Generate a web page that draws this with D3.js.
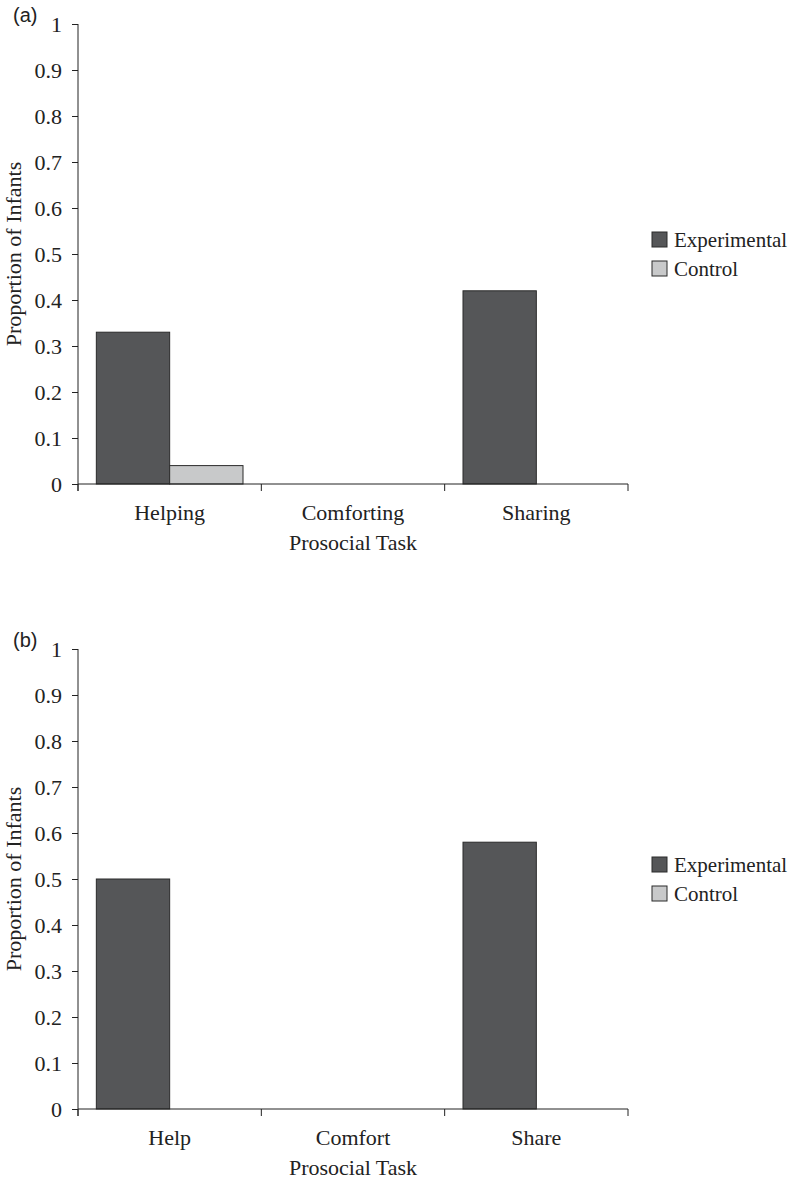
<!DOCTYPE html>
<html>
<head>
<meta charset="utf-8">
<script src="https://cdn.jsdelivr.net/npm/d3@7"></script>
<style>
  body { margin: 0; background: #fff; }
  svg text { font-family: "Liberation Serif", "Times New Roman", serif; fill: #222; }
  svg text.panel-label { font-family: "Liberation Sans", Arial, sans-serif; }
</style>
</head>
<body>
<div id="chart"></div>
<script>
// data
var series = ["Experimental", "Control"];
var colors = ["#555658", "#c8c9ca"];
var yTicks = [0, 0.1, 0.2, 0.3, 0.4, 0.5, 0.6, 0.7, 0.8, 0.9, 1];

var tasksA = ["Helping", "Comforting", "Sharing"];
var experimentalA = [0.33, 0, 0.42];
var controlA = [0.04, 0, 0];

var tasksB = ["Help", "Comfort", "Share"];
var experimentalB = [0.5, 0, 0.58];
var controlB = [0, 0, 0];

var width = 797, height = 1185;
var svg = d3.select("#chart").append("svg")
    .attr("width", width)
    .attr("height", height);

var plotLeft = 78, plotWidth = 550, plotHeight = 460;
var serif = '"Liberation Serif", "Times New Roman", serif';

function drawPanel(top, label, tasks, exp, ctrl) {
    var g = svg.append("g").attr("transform", "translate(" + plotLeft + "," + top + ")");

    var rows = tasks.map(function (t, i) {
        return { task: t, values: [exp[i], ctrl[i]] };
    });

    var x0 = d3.scaleBand().domain(tasks).range([0, plotWidth]).padding(0);
    var x1 = d3.scaleBand().domain(series).range([0, x0.bandwidth()])
        .paddingInner(0).paddingOuter(0.25);
    var y = d3.scaleLinear().domain([0, 1]).range([plotHeight, 0]);

    // bars (zero values not drawn)
    var groups = g.selectAll(".grp")
        .data(rows)
        .enter().append("g")
        .attr("transform", function (d) { return "translate(" + x0(d.task) + ",0)"; });

    groups.selectAll("rect")
        .data(function (d) {
            return d.values.map(function (v, i) { return { s: series[i], v: v, i: i }; })
                .filter(function (e) { return e.v > 0; });
        })
        .enter().append("rect")
        .attr("x", function (d) { return x1(d.s); })
        .attr("width", x1.bandwidth())
        .attr("y", function (d) { return y(d.v); })
        .attr("height", function (d) { return plotHeight - y(d.v); })
        .attr("fill", function (d) { return colors[d.i]; })
        .attr("stroke", "#2a2a2a")
        .attr("stroke-width", 1);

    // y axis
    var yAxis = g.append("g")
        .call(d3.axisLeft(y).tickValues(yTicks).tickSize(6).tickPadding(10)
            .tickFormat(function (d) { return d === 0 ? "0" : d === 1 ? "1" : d3.format(".1f")(d); }));
    yAxis.attr("font-family", serif);
    yAxis.select(".domain").attr("stroke", "#222").attr("d", "M0,0V" + (plotHeight + 7));
    yAxis.selectAll(".tick line").attr("stroke", "#222");
    yAxis.selectAll("text").style("font-size", "22px").style("font-family", serif).attr("fill", "#222");

    // x axis: labels centred in bands, ticks at band edges
    var xAxis = g.append("g")
        .attr("transform", "translate(0," + plotHeight + ")")
        .call(d3.axisBottom(x0).tickSize(0).tickPadding(20));
    xAxis.attr("font-family", serif);
    xAxis.select(".domain").attr("stroke", "#222").attr("d", "M0,0H" + plotWidth);
    xAxis.selectAll("text").style("font-size", "22px").style("font-family", serif).attr("fill", "#222");

    var edges = tasks.map(function (t) { return x0(t); }).concat([plotWidth]);
    g.selectAll(".xedge")
        .data(edges)
        .enter().append("line")
        .attr("x1", function (d) { return d; })
        .attr("x2", function (d) { return d; })
        .attr("y1", plotHeight)
        .attr("y2", plotHeight + 7)
        .attr("stroke", "#222");

    // axis titles
    g.append("text")
        .attr("x", plotWidth / 2)
        .attr("y", plotHeight + 66)
        .attr("text-anchor", "middle")
        .style("font-size", "22px")
        .text("Prosocial Task");

    g.append("text")
        .attr("transform", "translate(" + (-57) + "," + (plotHeight / 2) + ") rotate(-90)")
        .attr("text-anchor", "middle")
        .style("font-size", "22px")
        .text("Proportion of Infants");

    // panel label
    g.append("text")
        .attr("class", "panel-label")
        .attr("x", -65)
        .attr("y", -2)
        .style("font-size", "20px")
        .text(label);

    // legend
    var legend = g.append("g").attr("transform", "translate(" + (652 - plotLeft) + "," + (232 - 24) + ")");
    var item = legend.selectAll(".item")
        .data(series)
        .enter().append("g")
        .attr("transform", function (d, i) { return "translate(0," + (i * 29) + ")"; });
    item.append("rect")
        .attr("width", 15)
        .attr("height", 15)
        .attr("fill", function (d, i) { return colors[i]; })
        .attr("stroke", "#2a2a2a");
    item.append("text")
        .attr("x", 22)
        .attr("y", 15)
        .style("font-size", "21px")
        .text(function (d) { return d; });
}

drawPanel(24, "(a)", tasksA, experimentalA, controlA);
drawPanel(649, "(b)", tasksB, experimentalB, controlB);
</script>
</body>
</html>
